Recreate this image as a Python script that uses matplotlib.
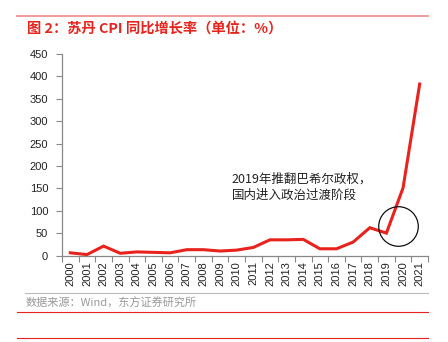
import numpy as np
import matplotlib
matplotlib.use('Agg')
import matplotlib.pyplot as plt
from matplotlib.lines import Line2D

plt.rcParams['font.family'] = ['Noto Sans CJK SC', 'DejaVu Sans']

years = [str(y) for y in range(2000, 2022)]
cpi = [6, 2, 21, 5, 8, 7, 6, 13, 13, 10, 12, 18, 35, 35, 36, 15, 15, 30, 62, 50, 151, 383]

title = '图 2：苏丹 CPI 同比增长率（单位：%）'
source = '数据来源：Wind，东方证券研究所'
note = '2019年推翻巴希尔政权，\n国内进入政治过渡阶段'

W, H = 448, 342
fig = plt.figure(figsize=(W / 100, H / 100), dpi=100)

# axes placed in pixel units
left, right, bottom, top = 62, 428, 255.5, 54
ax = fig.add_axes([left / W, (H - bottom) / H, (right - left) / W, (bottom - top) / H])

x = np.arange(len(years))
ax.plot(x, cpi, color='#e8231d', lw=2.2, solid_joinstyle='miter')

ax.set_xlim(-0.5, len(years) - 0.5)
ax.set_ylim(0, 450)
ax.set_yticks(range(0, 451, 50))
ax.set_xticks(x)
ax.set_xticklabels(years, rotation=90)
ax.set_xticks(np.arange(-0.5, len(years)), minor=True)
ax.tick_params(axis='x', which='major', length=0, pad=4, labelsize=8, labelcolor='#222222')
ax.tick_params(axis='x', which='minor', length=4, color='#888888', width=0.8)
ax.tick_params(axis='y', length=4, color='#888888', width=0.8, labelsize=8, labelcolor='#222222', pad=6)
for lab in ax.get_xticklabels() + ax.get_yticklabels():
    lab.set_family('Liberation Sans')
for s in ['top', 'right']:
    ax.spines[s].set_visible(False)
for s in ['left', 'bottom']:
    ax.spines[s].set_color('#888888')
    ax.spines[s].set_linewidth(0.9)

# highlight circle around 2019/2020
ax.plot([19.69], [66], marker='o', ms=28.5, mfc='none', mec='#111111', mew=0.9)
ax.text(9.7, 152, note, fontsize=9, color='#222222', linespacing=1.35, va='center')

# header / footer decorations
fig.add_artist(Line2D([17 / W, 428 / W], [1 - 16 / H] * 2, color='#f08a8a', lw=1.2))
fig.text(27 / W, 1 - 28.5 / H, title, color='#e8231d', fontsize=10.3, fontweight='bold', va='center')
fig.add_artist(Line2D([25 / W, 428 / W], [1 - 292.7 / H] * 2, color='#bbbbbb', lw=0.8))
fig.text(26 / W, 1 - 303 / H, source, color='#999999', fontsize=8, va='center')
fig.add_artist(Line2D([17 / W, 428 / W], [1 - 311.7 / H] * 2, color='#e8231d', lw=0.8))
fig.add_artist(Line2D([17 / W, 428 / W], [1 - 338.3 / H] * 2, color='#e8231d', lw=0.8))

fig.savefig('out.png', dpi=100)
